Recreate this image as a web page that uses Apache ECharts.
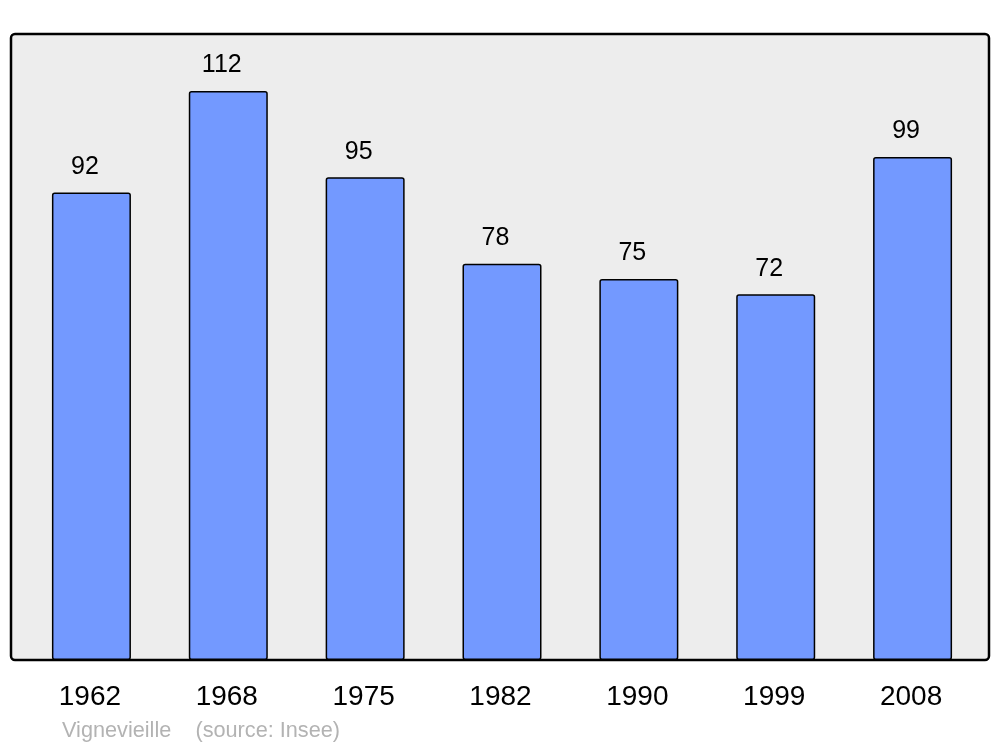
<!DOCTYPE html>
<html>
<head>
<meta charset="utf-8">
<script src="https://cdn.jsdelivr.net/npm/echarts@6/dist/echarts.min.js"></script>
<style>html,body{margin:0;padding:0;background:#fff;}#c{width:1000px;height:747px;}</style>
</head>
<body>
<div id="c"></div>
<script>
const years = ['1962', '1968', '1975', '1982', '1990', '1999', '2008'];
const population = [92, 112, 95, 78, 75, 72, 99];
const footerText = 'Vignevieille    (source: Insee)';

const chart = echarts.init(document.getElementById('c'), null, {renderer: 'canvas'});
chart.setOption({
  animation: false,
  backgroundColor: '#ffffff',
  textStyle: {fontFamily: 'Liberation Sans'},
  title: {
    text: footerText,
    left: 57, top: 715,
    textStyle: {fontFamily: 'Liberation Sans', fontSize: 21.7, fontWeight: 'normal', color: '#b3b3b3'}
  },
  graphic: [{
    type: 'rect', z: -10,
    shape: {x: 11, y: 34, width: 978, height: 626, r: 4},
    style: {fill: '#ededed', stroke: '#000', lineWidth: 2.5}
  }],
  grid: {left: 23, right: 19, top: 34, bottom: 87},
  xAxis: {
    type: 'category', data: years,
    axisLine: {show: false}, axisTick: {show: false},
    axisLabel: {fontSize: 28, color: '#000', margin: 23.5, fontFamily: 'Liberation Sans', padding: [0, 3, 0, 0]}
  },
  yAxis: {type: 'value', min: 0, max: 123.2, show: false, splitLine: {show: false}},
  series: [{
    type: 'bar', data: population, barWidth: 79,
    itemStyle: {color: '#7399ff', borderColor: '#000', borderWidth: 1.5, borderRadius: 2},
    label: {show: true, position: 'top', distance: 13, offset: [-6.5, 0], fontSize: 25, color: '#000', fontFamily: 'Liberation Sans'}
  }]
});
</script>
</body>
</html>
